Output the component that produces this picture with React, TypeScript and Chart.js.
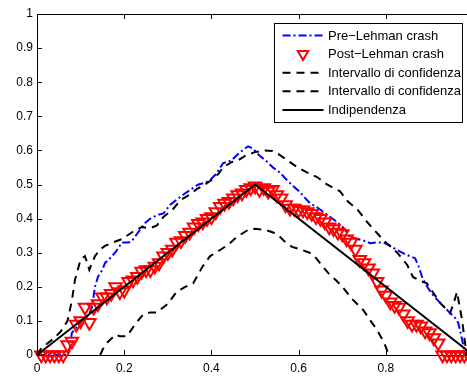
import React, { useEffect, useRef } from "react";
import { Chart, registerables } from "chart.js";

Chart.register(...registerables);

const FONT = "'Liberation Sans', Arial, Helvetica, sans-serif";

const X_TICKS = [0, 0.2, 0.4, 0.6, 0.8];
const X_TICK_LABELS = ["0", "0.2", "0.4", "0.6", "0.8"];
const Y_TICKS = [0, 0.1, 0.2, 0.3, 0.4, 0.5, 0.6, 0.7, 0.8, 0.9, 1];
const Y_TICK_LABELS = ["0", "0.1", "0.2", "0.3", "0.4", "0.5", "0.6", "0.7", "0.8", "0.9", "1"];

const SERIES_LABELS = [
  "Pre\u2212Lehman crash",
  "Post\u2212Lehman crash",
  "Intervallo di confidenza",
  "Intervallo di confidenza",
  "Indipendenza",
];

const PRE_X = [
  0, 0.07, 0.075, 0.08, 0.09, 0.1, 0.11, 0.12, 0.126, 0.133, 0.14, 0.15, 0.156, 0.165, 0.179, 0.195,
  0.21, 0.218, 0.232, 0.248, 0.26, 0.275, 0.29, 0.305, 0.32, 0.335, 0.351, 0.37, 0.385, 0.397, 0.41,
  0.427, 0.445, 0.466, 0.484, 0.495, 0.51, 0.525, 0.541, 0.557, 0.573, 0.588, 0.603, 0.615, 0.626,
  0.64, 0.656, 0.672, 0.688, 0.705, 0.718, 0.735, 0.75, 0.764, 0.78, 0.794, 0.81, 0.826, 0.845,
  0.867, 0.875, 0.883, 0.89, 0.9, 0.912, 0.925, 0.935, 0.947, 0.958, 0.966, 0.975, 0.982, 0.99,
];
const PRE_Y = [
  0, 0, 0.02, 0.065, 0.08, 0.1, 0.11, 0.12, 0.14, 0.2, 0.23, 0.25, 0.27, 0.28, 0.3, 0.33,
  0.33, 0.335, 0.36, 0.387, 0.4, 0.41, 0.415, 0.44, 0.455, 0.47, 0.484, 0.5, 0.505, 0.513, 0.53,
  0.563, 0.57, 0.595, 0.612, 0.605, 0.585, 0.57, 0.55, 0.535, 0.513, 0.495, 0.478, 0.46, 0.445,
  0.435, 0.42, 0.405, 0.39, 0.37, 0.346, 0.34, 0.335, 0.328, 0.33, 0.33, 0.32, 0.308, 0.295,
  0.284, 0.26, 0.229, 0.21, 0.19, 0.17, 0.152, 0.14, 0.123, 0.11, 0.094, 0.044, 0, 0,
];

const POST_X = [
  0.01, 0.02, 0.03, 0.04, 0.05, 0.06, 0.07, 0.08, 0.09, 0.1,
  0.11, 0.12, 0.13, 0.14, 0.15, 0.16, 0.17, 0.18, 0.19, 0.2,
  0.21, 0.22, 0.23, 0.24, 0.25, 0.26, 0.27, 0.28, 0.29, 0.3,
  0.31, 0.32, 0.33, 0.34, 0.35, 0.36, 0.37, 0.38, 0.39, 0.4,
  0.41, 0.42, 0.43, 0.44, 0.45, 0.46, 0.47, 0.48, 0.49, 0.5,
  0.51, 0.52, 0.53, 0.54, 0.55, 0.56, 0.57, 0.58, 0.59, 0.6,
  0.61, 0.62, 0.63, 0.64, 0.65, 0.66, 0.67, 0.68, 0.69, 0.7,
  0.71, 0.72, 0.73, 0.74, 0.75, 0.76, 0.77, 0.78, 0.79, 0.8,
  0.81, 0.82, 0.83, 0.84, 0.85, 0.86, 0.87, 0.88, 0.89, 0.9,
  0.91, 0.92, 0.93, 0.94, 0.95, 0.96, 0.97, 0.98, 0.99,
];
const POST_Y = [
  0, 0, 0, 0, 0, 0, 0.03, 0.04, 0.09, 0.1,
  0.14, 0.095, 0.14, 0.15, 0.17, 0.17, 0.18, 0.2, 0.185, 0.19,
  0.215, 0.22, 0.23, 0.245, 0.25, 0.25, 0.26, 0.27, 0.29, 0.3,
  0.31, 0.33, 0.335, 0.35, 0.36, 0.375, 0.385, 0.39, 0.4, 0.405,
  0.42, 0.435, 0.445, 0.45, 0.46, 0.47, 0.475, 0.485, 0.49, 0.495,
  0.485, 0.49, 0.48, 0.485, 0.47, 0.46, 0.44, 0.43, 0.43, 0.425,
  0.425, 0.42, 0.415, 0.405, 0.4, 0.39, 0.375, 0.37, 0.36, 0.355,
  0.34, 0.33, 0.31, 0.28, 0.27, 0.255, 0.24, 0.215, 0.19, 0.175,
  0.155, 0.145, 0.14, 0.12, 0.1, 0.09, 0.09, 0.085, 0.07, 0.065,
  0.05, 0.035, 0, 0, 0, 0, 0, 0, 0,
];

const CI_UP_X = [
  0, 0.01, 0.04, 0.055, 0.07, 0.08, 0.087, 0.1, 0.11, 0.12, 0.133, 0.145, 0.156, 0.174, 0.195,
  0.218, 0.24, 0.26, 0.275, 0.29, 0.31, 0.33, 0.35, 0.367, 0.385, 0.4, 0.415, 0.427, 0.445, 0.46,
  0.48, 0.5, 0.523, 0.54, 0.553, 0.575, 0.6, 0.62, 0.642, 0.665, 0.68, 0.695, 0.713, 0.736, 0.757,
  0.78, 0.8, 0.826, 0.849, 0.862, 0.878, 0.894, 0.91, 0.925, 0.947, 0.955, 0.963, 0.975, 0.985,
];
const CI_UP_Y = [
  0, 0.02, 0.05, 0.07, 0.1, 0.16, 0.22, 0.28, 0.29, 0.25, 0.29, 0.31, 0.32, 0.33, 0.34,
  0.36, 0.375, 0.372, 0.38, 0.405, 0.425, 0.455, 0.47, 0.487, 0.5, 0.513, 0.53, 0.55, 0.565, 0.57,
  0.586, 0.595, 0.6, 0.598, 0.59, 0.57, 0.548, 0.535, 0.522, 0.5, 0.49, 0.48, 0.45, 0.425, 0.39,
  0.357, 0.33, 0.3, 0.264, 0.229, 0.218, 0.21, 0.18, 0.152, 0.123, 0.15, 0.185, 0.1, 0,
];

const CI_LO_X = [
  0.145, 0.15, 0.16, 0.172, 0.18, 0.19, 0.206, 0.225, 0.244, 0.26, 0.275, 0.3, 0.32, 0.34, 0.358,
  0.38, 0.397, 0.42, 0.44, 0.458, 0.484, 0.5, 0.523, 0.54, 0.553, 0.57, 0.585, 0.608, 0.625, 0.638,
  0.655, 0.668, 0.685, 0.7, 0.722, 0.748, 0.765, 0.78, 0.79, 0.8, 0.805, 0.81,
];
const CI_LO_Y = [
  0, 0.015, 0.035, 0.05, 0.06, 0.055, 0.055, 0.09, 0.12, 0.125, 0.125, 0.15, 0.185, 0.2, 0.21,
  0.26, 0.29, 0.308, 0.325, 0.346, 0.367, 0.37, 0.367, 0.36, 0.352, 0.33, 0.317, 0.308, 0.3, 0.287,
  0.26, 0.24, 0.22, 0.2, 0.165, 0.132, 0.1, 0.073, 0.05, 0.023, 0.005, 0,
];

const IND_X = [0, 0.5, 1];
const IND_Y = [0, 0.5, 0];

const toPoints = (xs: number[], ys: number[]) => xs.map((x, i) => ({ x, y: ys[i] }));

const decorPlugin = {
  id: "decor",
  afterDraw(chart: any) {
    const { ctx, chartArea } = chart;
    const xs = chart.scales.x;
    const ys = chart.scales.y;
    const L = chartArea.left;
    const R = chartArea.right;
    const T = chartArea.top;
    const B = chartArea.bottom;
    ctx.save();
    ctx.strokeStyle = "#000";
    ctx.lineWidth = 1;
    ctx.setLineDash([]);
    // top border
    ctx.beginPath();
    ctx.moveTo(L, Math.round(T) + 0.5);
    ctx.lineTo(R, Math.round(T) + 0.5);
    ctx.stroke();
    // inward ticks
    const tl = 5;
    xs.ticks.forEach((t: any) => {
      const px = Math.round(xs.getPixelForValue(t.value)) + 0.5;
      ctx.beginPath();
      ctx.moveTo(px, B);
      ctx.lineTo(px, B - tl);
      ctx.moveTo(px, T);
      ctx.lineTo(px, T + tl);
      ctx.stroke();
    });
    ys.ticks.forEach((t: any) => {
      const py = Math.round(ys.getPixelForValue(t.value)) + 0.5;
      ctx.beginPath();
      ctx.moveTo(L, py);
      ctx.lineTo(L + tl, py);
      ctx.stroke();
    });

    // legend
    const lx = L + 237.5;
    const ly = T + 9.5;
    const lw = 188;
    const lh = 99;
    ctx.fillStyle = "#fff";
    ctx.fillRect(lx, ly, lw, lh);
    ctx.strokeStyle = "#000";
    ctx.lineWidth = 1;
    ctx.strokeRect(lx, ly, lw, lh);
    ctx.font = `13px ${FONT}`;
    ctx.textBaseline = "middle";
    ctx.textAlign = "left";
    chart.data.datasets.forEach((ds: any, i: number) => {
      const cy = ly + 12 + i * 18.6;
      const x0 = lx + 8;
      const x1 = lx + 49;
      if (ds.showLine) {
        ctx.save();
        ctx.strokeStyle = ds.borderColor;
        ctx.lineWidth = ds.borderWidth;
        ctx.setLineDash(ds.borderDash || []);
        ctx.beginPath();
        ctx.moveTo(x0, cy);
        ctx.lineTo(x1, cy);
        ctx.stroke();
        ctx.restore();
      } else {
        const r = 6;
        const cx = (x0 + x1) / 2;
        ctx.save();
        ctx.strokeStyle = ds.pointBorderColor;
        ctx.lineWidth = ds.pointBorderWidth;
        ctx.beginPath();
        for (let k = 0; k < 3; k++) {
          const a = Math.PI + (k * 2 * Math.PI) / 3;
          const px = cx + Math.sin(a) * r;
          const py = cy - Math.cos(a) * r;
          if (k === 0) ctx.moveTo(px, py);
          else ctx.lineTo(px, py);
        }
        ctx.closePath();
        ctx.stroke();
        ctx.restore();
      }
      ctx.fillStyle = "#000";
      ctx.fillText(ds.label, lx + 53.5, cy + 0.5);
    });
    ctx.restore();
  },
};

export default function App() {
  const ref = useRef<HTMLCanvasElement | null>(null);

  useEffect(() => {
    if (!ref.current) return;
    const lineBase = { showLine: true, pointRadius: 0, fill: false, tension: 0, clip: false };
    const chart = new Chart(ref.current, {
      type: "scatter",
      data: {
        datasets: [
          {
            ...lineBase,
            label: SERIES_LABELS[0],
            data: toPoints(PRE_X, PRE_Y),
            borderColor: "#0000ff",
            borderWidth: 2,
            borderDash: [8, 3, 2, 3],
            order: 4,
          },
          {
            label: SERIES_LABELS[1],
            data: toPoints(POST_X, POST_Y),
            showLine: false,
            pointStyle: "triangle",
            rotation: 180,
            pointRadius: 7.2,
            pointBorderWidth: 2,
            pointBorderColor: "#ff0000",
            pointBackgroundColor: "rgba(0,0,0,0)",
            borderColor: "#ff0000",
            backgroundColor: "rgba(0,0,0,0)",
            clip: false,
            order: 3,
          },
          {
            ...lineBase,
            label: SERIES_LABELS[2],
            data: toPoints(CI_UP_X, CI_UP_Y),
            borderColor: "#000000",
            borderWidth: 2,
            borderDash: [8, 6],
            order: 2,
          },
          {
            ...lineBase,
            label: SERIES_LABELS[3],
            data: toPoints(CI_LO_X, CI_LO_Y),
            borderColor: "#000000",
            borderWidth: 2,
            borderDash: [8, 6],
            order: 1,
          },
          {
            ...lineBase,
            label: SERIES_LABELS[4],
            data: toPoints(IND_X, IND_Y),
            borderColor: "#000000",
            borderWidth: 2,
            borderDash: [],
            order: 0,
          },
        ] as any,
      },
      options: {
        animation: false,
        responsive: false,
        events: [],
        layout: { autoPadding: false, padding: { top: 14, right: 0, left: 0, bottom: 0 } },
        plugins: { legend: { display: false }, tooltip: { enabled: false } },
        scales: {
          x: {
            type: "linear",
            min: 0,
            max: 0.986,
            grid: { display: false, drawTicks: false },
            border: { display: true, color: "#000", width: 1 },
            afterFit: (s: any) => {
              s.height = 22;
              s.paddingLeft = 0;
              s.paddingRight = 0;
            },
            afterBuildTicks: (s: any) => {
              s.ticks = X_TICKS.map((v) => ({ value: v }));
            },
            ticks: {
              padding: 6,
              color: "#000",
              font: { family: FONT, size: 12 },
              maxRotation: 0,
              autoSkip: false,
              callback: (v: any) => {
                const i = X_TICKS.indexOf(Number(v));
                return i >= 0 ? X_TICK_LABELS[i] : "";
              },
            },
          },
          y: {
            type: "linear",
            min: 0,
            max: 1,
            grid: { display: false, drawTicks: false },
            border: { display: true, color: "#000", width: 1 },
            afterFit: (s: any) => {
              s.width = 37;
              s.paddingTop = 0;
              s.paddingBottom = 0;
            },
            afterBuildTicks: (s: any) => {
              s.ticks = Y_TICKS.map((v) => ({ value: v }));
            },
            ticks: {
              padding: 4,
              color: "#000",
              font: { family: FONT, size: 12 },
              autoSkip: false,
              callback: (v: any) => {
                const i = Y_TICKS.findIndex((t) => Math.abs(t - Number(v)) < 1e-9);
                return i >= 0 ? Y_TICK_LABELS[i] : "";
              },
            },
          },
        },
      } as any,
      plugins: [decorPlugin],
    });
    return () => chart.destroy();
  }, []);

  return (
    <div style={{ position: "fixed", left: 0, top: 0, width: 467, height: 377, background: "#fff" }}>
      <canvas ref={ref} width={467} height={377} style={{ display: "block" }} />
    </div>
  );
}
